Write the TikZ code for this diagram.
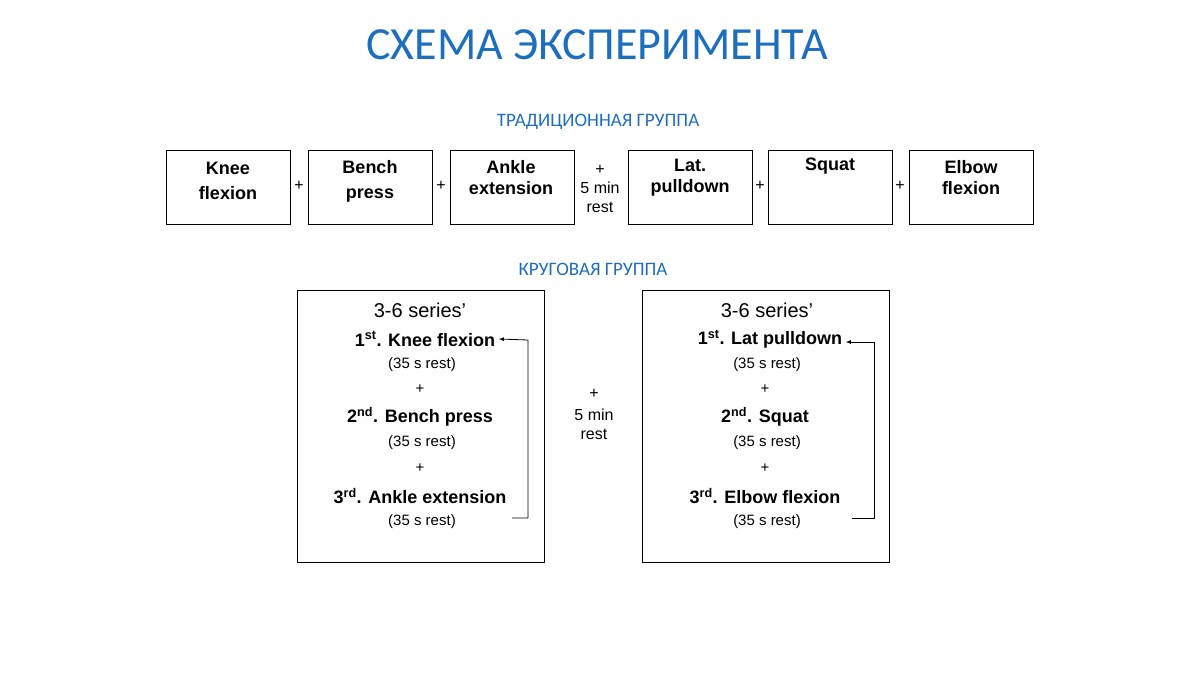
\documentclass[tikz,border=0pt]{standalone}
\usepackage{fontspec}
\setmainfont{Liberation Sans}
\newfontfamily\calfont{Carlito}
\definecolor{tblue}{RGB}{30,110,190}
\begin{document}
\begin{tikzpicture}[x=1pt,y=-1pt,
 box/.style={draw,line width=1pt,minimum width=124pt,minimum height=74pt,anchor=north west,inner sep=0pt},
 big/.style={draw,line width=1pt,minimum width=247pt,minimum height=272pt,anchor=north west},
 lbl/.style={font=\fontsize{18}{21}\selectfont\bfseries,align=center},
 sm/.style={font=\fontsize{16}{19}\selectfont,align=center},
 ln/.style={font=\fontsize{18}{20}\selectfont\bfseries},
 rs/.style={font=\fontsize{15}{18}\selectfont}]
\useasboundingbox (0,0) rectangle (1200,675);
\node[text=tblue,font=\calfont\fontsize{46}{50}\selectfont] (title) at (597,45) {СХЕМА ЭКСПЕРИМЕНТА};
\node[text=tblue,font=\calfont\fontsize{19}{22}\selectfont] (t1) at (598,122) {ТРАДИЦИОННАЯ ГРУППА};
\node[text=tblue,font=\calfont\fontsize{19}{22}\selectfont] (t2) at (593,269) {КРУГОВАЯ ГРУППА};
\node[box] (b1) at (166,150) {}; \node[lbl] at (228,181) {Knee\\[4pt]flexion};
\node[box] (b2) at (308,150) {}; \node[lbl] at (370,181) {Bench\\[4pt]press};
\node[box] (b3) at (450,150) {}; \node[lbl] at (511,178) {Ankle\\extension};
\node[box] (b4) at (628,150) {}; \node[lbl] at (690,178) {Lat.\\pulldown};
\node[box] (b5) at (768,150) {}; \node[lbl] at (830,166) {Squat};
\node[box] (b6) at (909,150) {}; \node[lbl] at (971,178) {Elbow\\flexion};
\foreach \x/\n in {299/p1,441/p2,760/p3,900/p4} \node[sm] (\n) at (\x,186) {+};
\node[sm] (mid1) at (600,189) {+\\5 min\\rest};
\node[big] (L) at (297,290) {};
\node[big] (R) at (642,290) {};
\node[sm] (mid2) at (594,414) {+\\[3pt]5 min\\rest};
\node[font=\fontsize{20}{22}\selectfont] (ls) at (420,310) {3-6 series’};
\node[ln] (l1) at (425,339) {1\textsuperscript{st}. Knee flexion};
\node[rs] (l2) at (422,365) {(35 s rest)};
\node[rs] (l3) at (420,389) {+};
\node[ln] (l4) at (420,417) {2\textsuperscript{nd}. Bench press};
\node[rs] (l5) at (422,443) {(35 s rest)};
\node[rs] (l6) at (420,468) {+};
\node[ln] (l7) at (420,496) {3\textsuperscript{rd}. Ankle extension};
\node[rs] (l8) at (422,522) {(35 s rest)};
\node[font=\fontsize{20}{22}\selectfont] (rs0) at (767,310) {3-6 series’};
\node[ln] (r1) at (770,339) {1\textsuperscript{st}. Lat pulldown};
\node[rs] (r2) at (767,365) {(35 s rest)};
\node[rs] (r3) at (765,389) {+};
\node[ln] (r4) at (765,417) {2\textsuperscript{nd}. Squat};
\node[rs] (r5) at (767,443) {(35 s rest)};
\node[rs] (r6) at (765,468) {+};
\node[ln] (r7) at (765,496) {3\textsuperscript{rd}. Elbow flexion};
\node[rs] (r8) at (767,522) {(35 s rest)};
\coordinate (la) at (512,518); \coordinate (lb) at (528,518); \coordinate (lc) at (528,340);
\draw[-latex,line width=0.8pt] (la) -- (lb) -- (lc) -- (l1.east);
\coordinate (ra) at (852,518); \coordinate (rb) at (874,518); \coordinate (rc) at (874,342);
\draw[-latex,line width=0.8pt] (ra) -- (rb) -- (rc) -- (rc-|r1.east);
\end{tikzpicture}
\end{document}
